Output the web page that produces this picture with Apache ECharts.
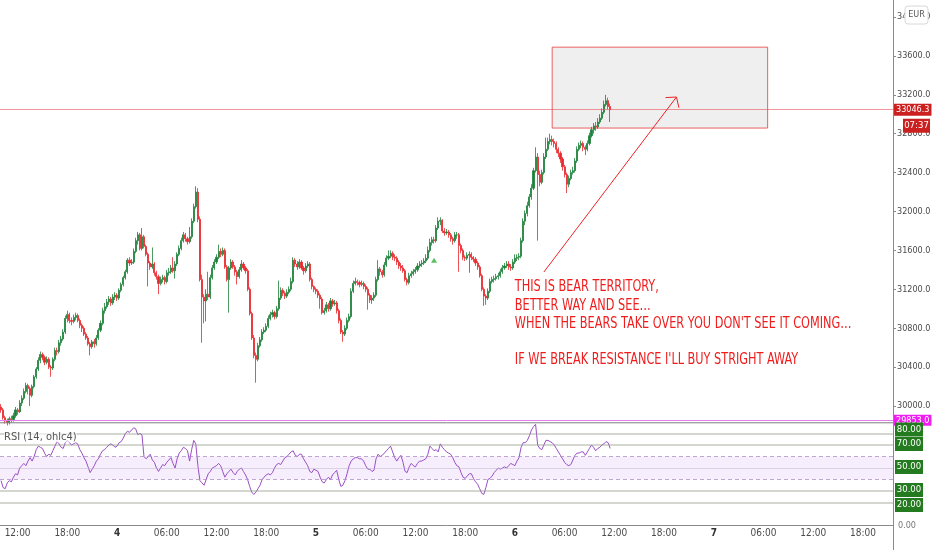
<!DOCTYPE html>
<html><head><meta charset="utf-8">
<script src="https://cdn.jsdelivr.net/npm/echarts@6/dist/echarts.min.js"></script>
<style>html,body{margin:0;padding:0;background:#fff}#c{width:932px;height:550px}</style>
</head><body><div id="c"></div>
<script>
// [open, close, low, high] per 15-minute candle, from day 3 10:00
const candles = [
[29990,29960,29930,30020],[29960,29880,29860,29980],[29880,29850,29820,29900],[29850,29830,29800,29870],[29830,29870,29810,29890],
[29870,29860,29830,29900],[29860,29900,29840,29930],[29900,29960,29880,29990],[29960,29940,29910,29980],[29940,30030,29930,30060],
[30030,30080,30000,30110],[30080,30150,30060,30180],[30150,30210,30130,30240],[30210,30180,30120,30230],[30180,30110,30000,30200],
[30110,30200,30090,30220],[30200,30300,30180,30320],[30300,30380,30280,30400],[30380,30470,30360,30500],[30470,30530,30440,30560],
[30530,30500,30470,30550],[30500,30450,30420,30520],[30450,30480,30430,30510],[30480,30400,30380,30500],[30400,30390,30300,30420],
[30390,30480,30370,30500],[30480,30570,30460,30600],[30570,30560,30520,30600],[30560,30650,30540,30680],[30650,30690,30620,30720],
[30690,30760,30670,30790],[30760,30900,30740,30930],[30900,30940,30860,30980],[30940,30880,30850,30960],[30880,30870,30830,30910],
[30870,30910,30850,30940],[30910,30930,30880,30960],[30930,30880,30860,30950],[30880,30830,30800,30900],[30830,30800,30760,30850],
[30800,30740,30720,30820],[30740,30700,30680,30760],[30700,30640,30620,30720],[30640,30610,30520,30660],[30610,30660,30590,30680],
[30660,30640,30600,30690],[30640,30700,30620,30730],[30700,30780,30680,30800],[30780,30850,30760,30880],[30850,30980,30830,31010],
[30980,31020,30950,31060],[31020,31070,31000,31100],[31070,31100,31040,31130],[31100,31060,31030,31120],[31060,31120,31040,31150],
[31120,31140,31090,31170],[31140,31110,31080,31160],[31110,31190,31090,31210],[31190,31250,31170,31270],[31250,31320,31230,31340],
[31320,31380,31300,31400],[31380,31500,31360,31520],[31500,31470,31440,31530],[31470,31480,31450,31510],[31480,31590,31460,31620],
[31590,31700,31570,31730],[31700,31760,31660,31790],[31760,31620,31600,31780],[31620,31740,31600,31830],[31740,31640,31620,31760],
[31640,31560,31540,31660],[31560,31470,31230,31580],[31470,31430,31400,31490],[31430,31460,31410,31630],[31460,31370,31340,31480],
[31370,31330,31300,31390],[31330,31260,31150,31350],[31260,31300,31240,31330],[31300,31320,31270,31350],[31320,31280,31250,31340],
[31280,31370,31260,31400],[31370,31380,31340,31420],[31380,31420,31360,31450],[31420,31390,31370,31530],[31390,31460,31310,31490],
[31460,31560,31440,31580],[31560,31620,31540,31650],[31620,31700,31600,31730],[31700,31760,31680,31790],[31760,31720,31690,31780],
[31720,31690,31660,31740],[31690,31740,31670,31840],[31740,31900,31720,31930],[31900,32050,31880,32080],[32050,32200,32030,32260],
[32200,31920,31890,32240],[31920,31300,31280,31950],[31300,31120,30650,31350],[31120,31080,30850,31150],[31080,31150,30870,31200],
[31150,31120,31090,31380],[31120,31320,31100,31350],[31320,31420,31300,31450],[31420,31480,31400,31510],[31480,31530,31460,31560],
[31530,31590,31510,31660],[31590,31560,31530,31620],[31560,31600,31540,31630],[31600,31430,31410,31620],[31430,31300,31280,31450],
[31300,31420,30960,31440],[31420,31480,31400,31510],[31480,31430,31410,31500],[31430,31380,31340,31450],[31380,31330,31250,31400],
[31330,31400,31310,31430],[31400,31460,31380,31500],[31460,31420,31400,31480],[31420,31390,31360,31440],[31390,31200,31180,31410],
[31200,30950,30930,31220],[30950,30700,30680,30970],[30700,30520,30490,30730],[30520,30480,30240,30550],[30480,30620,30460,30650],
[30620,30680,30600,30710],[30680,30760,30660,30790],[30760,30780,30740,30810],[30780,30820,30760,30850],[30820,30900,30800,30930],
[30900,30940,30880,30970],[30940,30960,30910,30990],[30960,30920,30890,30980],[30920,31000,30900,31030],[31000,31110,30980,31290],
[31110,31190,31090,31220],[31190,31160,31130,31210],[31160,31130,31100,31180],[31130,31170,31110,31200],[31170,31200,31150,31230],
[31200,31280,31180,31320],[31280,31500,31260,31530],[31500,31460,31430,31520],[31460,31430,31400,31490],[31430,31480,31410,31510],
[31480,31420,31400,31500],[31420,31390,31350,31440],[31390,31440,31370,31470],[31440,31460,31420,31490],[31460,31300,31280,31480],
[31300,31230,31200,31320],[31230,31200,31170,31240],[31200,31180,31150,31220],[31180,31140,31110,31200],[31140,31100,31000,31160],
[31100,30960,30940,31120],[30960,30980,30940,31010],[30980,31040,30960,31070],[31040,31000,30970,31060],[31000,31080,30980,31110],
[31080,31050,31020,31100],[31050,31060,31030,31090],[31060,30980,30950,31080],[30980,30880,30850,31000],[30880,30760,30740,30900],
[30760,30740,30660,30780],[30740,30800,30720,30830],[30800,30880,30780,30910],[30880,30920,30860,30950],[30920,31180,30900,31210],
[31180,31260,31160,31290],[31260,31280,31240,31320],[31280,31270,31240,31300],[31270,31250,31220,31290],[31250,31260,31230,31290],
[31260,31230,31200,31280],[31230,31200,31170,31250],[31200,31140,30990,31220],[31140,31090,31060,31160],[31090,31110,31050,31140],
[31110,31140,31080,31170],[31140,31300,31120,31330],[31300,31410,31280,31500],[31410,31380,31340,31430],[31380,31350,31320,31400],
[31350,31450,31330,31480],[31450,31520,31430,31550],[31520,31540,31500,31600],[31540,31570,31520,31600],[31570,31530,31500,31590],
[31530,31520,31490,31560],[31520,31480,31450,31540],[31480,31440,31410,31500],[31440,31420,31390,31470],[31420,31390,31370,31450],
[31390,31300,31280,31410],[31300,31270,31240,31320],[31270,31340,31250,31370],[31340,31360,31320,31390],[31360,31380,31340,31410],
[31380,31400,31360,31430],[31400,31440,31380,31470],[31440,31460,31420,31490],[31460,31470,31430,31500],[31470,31490,31450,31520],
[31490,31520,31470,31560],[31520,31600,31500,31640],[31600,31680,31580,31720],[31680,31710,31650,31740],[31710,31700,31670,31740],
[31700,31830,31680,31860],[31830,31900,31810,31940],[31900,31910,31860,31940],[31910,31800,31780,31920],[31800,31780,31750,31830],
[31780,31790,31760,31820],[31790,31760,31730,31810],[31760,31720,31690,31780],[31720,31700,31660,31740],[31700,31760,31680,31790],
[31760,31760,31720,31790],[31760,31650,31380,31780],[31650,31600,31570,31670],[31600,31530,31500,31620],[31530,31520,31490,31550],
[31520,31550,31500,31580],[31550,31560,31370,31590],[31560,31530,31500,31580],[31530,31510,31480,31540],[31510,31470,31440,31530],
[31470,31430,31400,31490],[31430,31340,31320,31450],[31340,31200,31180,31360],[31200,31130,31030,31220],[31130,31110,31040,31150],
[31110,31180,31090,31210],[31180,31280,31160,31310],[31280,31300,31260,31330],[31300,31310,31270,31340],[31310,31330,31290,31360],
[31330,31340,31300,31370],[31340,31380,31320,31410],[31380,31420,31360,31450],[31420,31440,31400,31470],[31440,31460,31420,31490],
[31460,31430,31400,31490],[31430,31420,31390,31460],[31420,31480,31400,31510],[31480,31520,31460,31560],[31520,31530,31490,31560],
[31530,31540,31500,31570],[31540,31700,31520,31730],[31700,31900,31680,31930],[31900,31980,31860,32010],[31980,32060,31950,32100],
[32060,32150,32040,32180],[32150,32240,32120,32280],[32240,32420,32220,32450],[32420,32560,32400,32660],[32560,32380,31700,32600],
[32380,32300,32260,32420],[32300,32400,32280,32430],[32400,32560,32380,32600],[32560,32640,32540,32760],[32640,32720,32620,32760],
[32720,32740,32690,32800],[32740,32720,32680,32780],[32720,32700,32660,32750],[32700,32640,32600,32720],[32640,32600,32560,32660],
[32600,32540,32500,32620],[32540,32460,32420,32560],[32460,32380,32350,32480],[32380,32280,32190,32400],[32280,32340,32250,32370],
[32340,32400,32320,32430],[32400,32420,32380,32460],[32420,32520,32400,32550],[32520,32640,32500,32670],[32640,32680,32620,32710],
[32680,32700,32650,32730],[32700,32660,32620,32720],[32660,32640,32580,32680],[32640,32700,32620,32730],[32700,32780,32680,32810],
[32780,32840,32760,32870],[32840,32880,32800,32910],[32880,32870,32830,32920],[32870,32920,32850,32960],[32920,32960,32900,33000],
[32960,33020,32940,33060],[33020,33100,33000,33140],[33100,33140,33080,33200],[33140,33080,33050,33170],[33080,33046.3,32920,33110]
];
// RSI (14, ohlc4) per candle
const rsi = [
39,33,32,37,39,38,42,45,44,50,52,54,52,56,59,56,60,66,69,68,
67,63,60,62,61,65,69,73,71,68,67,72,74,72,70,71,72,71,66,63,
59,56,51,46,49,52,56,58,62,65,66,68,70,71,70,68,69,72,73,76,
80,82,81,83,85,84,79,80,79,60,58,60,62,57,55,50,47,50,53,52,
55,57,59,54,50,58,63,65,68,67,65,56,66,74,71,52,39,37,35,40,
45,47,50,51,52,54,52,47,42,45,47,49,46,44,47,49,50,47,44,40,
34,29,27,29,32,35,40,42,44,45,44,46,50,53,54,53,56,59,60,62,
64,65,61,60,62,62,58,55,52,47,46,49,48,47,42,38,37,40,42,40,
44,46,48,40,34,35,39,45,52,56,58,59,59,58,58,56,52,49,49,47,
48,58,62,60,61,63,65,67,69,64,59,56,59,61,55,47,46,51,54,52,
51,54,56,56,57,58,62,69,67,65,66,64,71,68,66,64,63,62,59,55,
52,51,46,42,41,43,45,45,41,38,36,32,28,27,33,40,41,43,46,48,
50,49,50,51,50,52,54,53,52,56,59,68,72,72,74,78,83,86,88,70,
67,66,70,74,74,73,72,70,67,64,61,58,55,53,52,53,57,61,63,63,
64,64,61,64,67,70,68,65,67,68,70,71,73,72,67
];
const rsiSolidLevels = [80, 70, 30, 20];
const rsiDashedLevels = [60, 40];
const rsiMidLevel = 50;
const rsiLabelled = [80, 70, 50, 30, 20];
const lastPrice = 33046.3;
const countdown = '07:37';
const supportLevel = 29853.0;
const zone = { from: 266, to: 370, low: 32858, high: 33690 };
const arrowFrom = [262, 31378];
const arrowTo = [326, 33177];
const signalPoint = [209, 31500];
const noteAnchor = [248, 31316];
const noteLines = ['THIS IS BEAR TERRITORY,', 'BETTER WAY AND SEE\u2026', "WHEN THE BEARS TAKE OVER YOU DON'T SEE IT COMING\u2026", '', "IF WE BREAK RESISTANCE I'LL BUY STRIGHT AWAY"];

// time categories (15-minute slots)
const startDay = 3, startMinute = 600, stepMinutes = 15, slotCount = 431;
const categories = [];
for (let k = 0; k < slotCount; k++) {
  const m = startMinute + k * stepMinutes;
  const d = startDay + Math.floor(m / 1440);
  const mm = m % 1440;
  const h = Math.floor(mm / 60), mi = mm % 60;
  categories.push(d + '|' + String(h).padStart(2, '0') + ':' + String(mi).padStart(2, '0'));
}
const isMajor = (idx, val) => { const t = String(val).split('|')[1]; return t.slice(3) === '00' && parseInt(t, 10) % 6 === 0; };
const fmtTime = val => { const p = String(val).split('|'); return p[1] === '00:00' ? '{b|' + p[0] + '}' : p[1]; };

const NARROW = '"Liberation Sans Narrow", "Arial Narrow", "DejaVu Sans Condensed", sans-serif';
const chart = echarts.init(document.getElementById('c'), null, { renderer: 'canvas' });
chart.setOption({
  animation: false,
  backgroundColor: '#ffffff',
  textStyle: { fontFamily: NARROW },
  grid: [
    { left: 0, right: 39, top: -21.9, height: 466.8, outerBoundsMode: 'none', containLabel: false },
    { left: 0, right: 39, top: 410.5, height: 115, outerBoundsMode: 'none', containLabel: false }
  ],
  xAxis: [
    { type: 'category', gridIndex: 0, data: categories, show: false },
    { type: 'category', gridIndex: 1, data: categories,
      axisLine: { lineStyle: { color: '#8a8a8a', width: 1 } },
      axisTick: { interval: isMajor, length: 3, lineStyle: { color: '#8a8a8a' } },
      axisLabel: { interval: isMajor, formatter: fmtTime, color: '#4a4a4a', fontSize: 10, margin: 3, fontFamily: NARROW,
        rich: { b: { fontWeight: 'bold', color: '#333', fontSize: 10, fontFamily: NARROW } } },
      splitLine: { show: false } }
  ],
  yAxis: [
    { type: 'value', gridIndex: 0, position: 'right', min: 29600, max: 34400, interval: 400,
      splitLine: { show: false }, axisLine: { show: false },
      axisTick: { show: true, length: 3, lineStyle: { color: '#8a8a8a' } },
      axisLabel: { showMinLabel: false, showMaxLabel: false, formatter: v => v.toFixed(1), color: '#4a4a4a', fontSize: 9, margin: 4, fontFamily: NARROW } },
    { type: 'value', gridIndex: 1, position: 'right', min: 0, max: 100, interval: 10,
      splitLine: { show: false }, axisLine: { show: false }, axisTick: { show: false },
      axisLabel: { margin: 5, fontFamily: NARROW, showMaxLabel: false, color: '#777', fontSize: 9,
        formatter: v => (v === 0 ? '0.00' : '') } }
  ],
  series: [
    { type: 'candlestick', xAxisIndex: 0, yAxisIndex: 0, data: candles, barWidth: 1.6,
      itemStyle: { color: '#1c8038', color0: '#e8262c', borderColor: '#1c8038', borderColor0: '#e8262c', borderWidth: 0.8 },
      markLine: { symbol: 'none', silent: true, animation: false, data: [
        { yAxis: lastPrice, lineStyle: { color: 'rgba(232,80,90,0.6)', width: 1, type: 'solid' },
          label: { show: true, position: 'end', distance: 1, formatter: () => lastPrice.toFixed(1), color: '#fff', backgroundColor: '#cc1f1f', padding: [2, 2, 1, 2], fontSize: 9, fontFamily: NARROW } },
        { yAxis: supportLevel, lineStyle: { color: '#e27ded', width: 1, type: 'solid' },
          label: { show: true, position: 'end', distance: 1, formatter: () => supportLevel.toFixed(1), color: '#fff', backgroundColor: '#f01df0', padding: [1, 2, 1, 2], fontSize: 9, fontFamily: NARROW } }
      ] },
      markArea: { silent: true, itemStyle: { color: 'rgba(130,130,130,0.13)', borderColor: 'rgba(232,70,70,0.85)', borderWidth: 1 },
        data: [[{ xAxis: zone.from, yAxis: zone.high }, { xAxis: zone.to, yAxis: zone.low }]] },
      markPoint: { silent: true, symbol: 'triangle', symbolSize: [6, 5], itemStyle: { color: '#5cbf60' }, label: { show: false },
        data: [{ coord: signalPoint }] }
    },
    { type: 'line', xAxisIndex: 1, yAxisIndex: 1, data: rsi, showSymbol: false, symbol: 'none',
      lineStyle: { color: '#9a4ec6', width: 1 },
      markArea: { silent: true, itemStyle: { color: 'rgba(168,90,232,0.10)' }, data: [[{ yAxis: rsiDashedLevels[1] }, { yAxis: rsiDashedLevels[0] }]] },
      markLine: { symbol: 'none', silent: true, label: { show: false }, animation: false,
        data: rsiSolidLevels.map(v => ({ yAxis: v, lineStyle: { color: 'rgba(150,158,140,0.55)', width: 1.6, type: 'solid' } }))
          .concat(rsiDashedLevels.map(v => ({ yAxis: v, lineStyle: { color: 'rgba(170,140,190,0.75)', width: 1, type: [4, 3] } })))
          .concat([{ yAxis: rsiMidLevel, lineStyle: { color: 'rgba(190,180,200,0.5)', width: 1, type: 'solid' } }]) } }
  ]
});

function drawAnnotations() {
  const P = (c) => chart.convertToPixel({ gridIndex: 0 }, c);
  const W = chart.getWidth(), H = chart.getHeight();
  const axisX = W - 39;
  const s = P(arrowFrom), t = P(arrowTo);
  const dx = t[0] - s[0], dy = t[1] - s[1], len = Math.hypot(dx, dy);
  const bx = -dx / len, by = -dy / len, ang = 50 * Math.PI / 180, al = 11;
  const rot = (a) => [t[0] + al * (bx * Math.cos(a) - by * Math.sin(a)), t[1] + al * (bx * Math.sin(a) + by * Math.cos(a))];
  const a1 = rot(ang), a2 = rot(-ang);
  const note = P(noteAnchor);
  const py = P([0, lastPrice])[1];
  const sepY = P([0, supportLevel])[1] + 2.5;
  const nudge = { 80: -4, 70: -1, 50: -1, 30: -1, 20: 2.5 };
  const rsiBoxes = [];
  rsiLabelled.forEach(v => {
    const y = chart.convertToPixel({ yAxisIndex: 1 }, v) + (nudge[v] || 0);
    rsiBoxes.push({ type: 'rect', z: 70, silent: true, shape: { x: axisX + 2, y: y - 7, width: 28, height: 14 }, style: { fill: '#247a1e' } });
    rsiBoxes.push({ type: 'text', z: 71, silent: true, x: axisX + 16, y: y,
      style: { text: v.toFixed(2), fill: '#fff', fontSize: 9.5, fontFamily: NARROW, align: 'center', verticalAlign: 'middle' } });
  });
  chart.setOption({ graphic: [
    { type: 'line', z: 50, silent: true, shape: { x1: 0, y1: sepY, x2: axisX, y2: sepY }, style: { stroke: '#7d7d7d', lineWidth: 1 } },
    { type: 'line', z: 50, silent: true, shape: { x1: axisX + 0.5, y1: 0, x2: axisX + 0.5, y2: H }, style: { stroke: '#8a8a8a', lineWidth: 1 } },
    { type: 'polyline', z: 60, silent: true, shape: { points: [s, t] }, style: { stroke: '#ee2222', lineWidth: 1, fill: null } },
    { type: 'polyline', z: 60, silent: true, shape: { points: [a1, t, a2] }, style: { stroke: '#ee2222', lineWidth: 1, fill: null } },
    { type: 'text', z: 60, silent: true, x: note[0], y: note[1], scaleX: 0.81,
      style: { text: noteLines.join('\n'), fill: '#f01c1c', fontSize: 15.5, fontFamily: NARROW, lineHeight: 18.3, verticalAlign: 'top', align: 'left' } },
    { type: 'text', z: 60, silent: true, x: 4, y: 437,
      style: { text: 'RSI (14, ohlc4)', fill: '#555', fontSize: 11, fontFamily: NARROW, verticalAlign: 'middle', backgroundColor: 'rgba(255,255,255,0.6)' } },
    { type: 'rect', z: 70, silent: true, shape: { x: axisX + 10, y: py + 9, width: 27, height: 14 }, style: { fill: '#cc1f1f' } },
    { type: 'text', z: 71, silent: true, x: axisX + 23.5, y: py + 16,
      style: { text: countdown, fill: '#fff', fontSize: 9.5, fontFamily: NARROW, align: 'center', verticalAlign: 'middle' } },
    { type: 'rect', z: 70, silent: true, shape: { x: W - 27, y: 6, width: 23, height: 18, r: 3 }, style: { fill: '#fff', stroke: '#d8d8d8', lineWidth: 1 } },
    { type: 'text', z: 71, silent: true, x: W - 15.5, y: 15,
      style: { text: 'EUR', fill: '#555', fontSize: 9, fontFamily: NARROW, align: 'center', verticalAlign: 'middle' } }
  ].concat(rsiBoxes) });
}
drawAnnotations();
</script>
</body></html>
